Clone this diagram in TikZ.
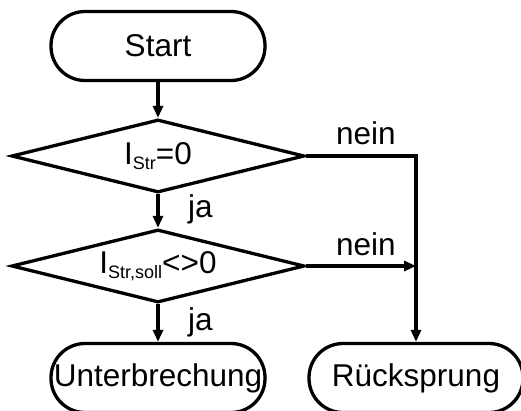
\documentclass[tikz,border=0pt]{standalone}
\usepackage{fontspec}
\setmainfont{Liberation Sans}
\usetikzlibrary{shapes.geometric,arrows.meta}
\begin{document}
\begin{tikzpicture}[x=1pt,y=-1pt,
  every node/.style={font=\fontsize{31.5}{38}\selectfont},
  term/.style={draw, line width=3.3pt, rounded corners=34pt, minimum width=214pt, minimum height=69pt, inner sep=0pt},
  dec/.style={draw, diamond, aspect=4, line width=3.3pt, minimum width=293pt, minimum height=73pt, inner sep=0pt},
  flow/.style={line width=3.3pt, -{Triangle[length=12pt,width=10pt]}},
  lab/.style={inner sep=0pt, anchor=base west}]
\useasboundingbox (0,0) rectangle (521,410);
\newcommand{\subtxt}[1]{\raisebox{-5.5pt}{\fontsize{18}{18}\selectfont #1}}
\node[term] (start) at (158,46) {Start};
\node[dec] (d1) at (158,156) {I\subtxt{Str}=0};
\node[dec] (d2) at (158,266) {I\subtxt{Str,soll}<>0};
\node[term] (unt) at (158,378) {Unterbrechung};
\node[term] (rueck) at (416,378) {Rücksprung};
\node[lab] (ja1) at (188,217) {ja};
\node[lab] (ja2) at (188,330) {ja};
\node[lab] (nein1) at (336,144) {nein};
\node[lab] (nein2) at (336,255) {nein};
\draw[flow] (start.south) -- (d1.north);
\draw[flow] (d1.south) -- (d2.north);
\draw[flow] (d2.south) -- (unt.north);
\draw[flow] (d1.east) -- (d1.east -| rueck.north) -- (rueck.north);
\draw[flow] (d2.east) -- (d2.east -| rueck.north);
\end{tikzpicture}
\end{document}
